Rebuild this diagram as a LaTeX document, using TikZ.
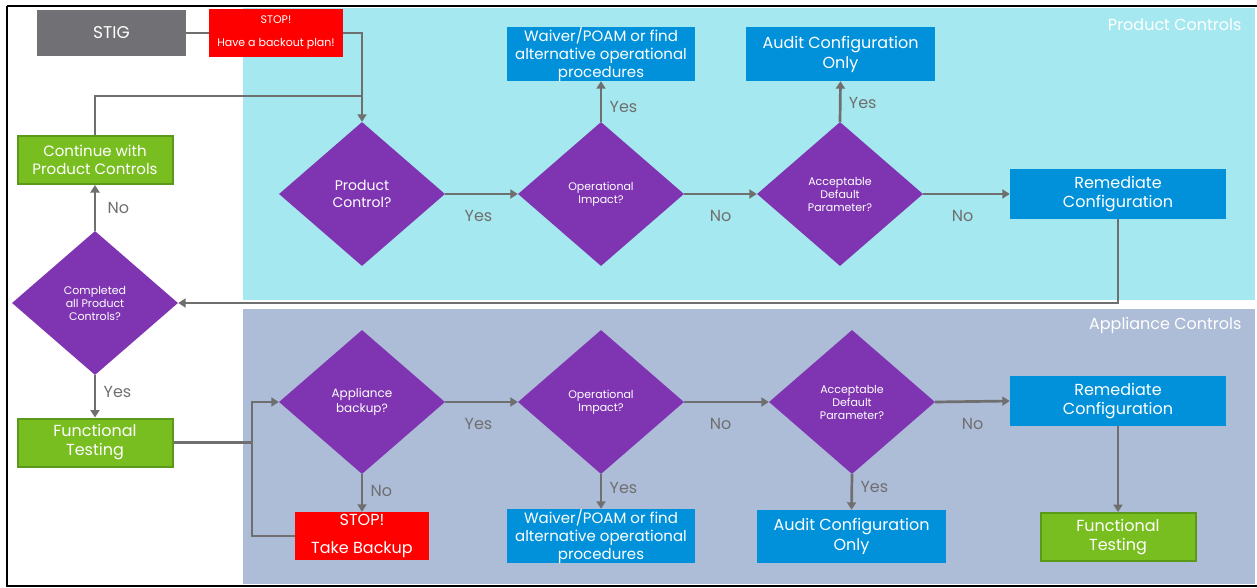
\documentclass[tikz,border=0pt]{standalone}
\usepackage{fontspec}
\setmainfont{Poppins}
\usetikzlibrary{shapes.geometric,arrows.meta}
\definecolor{prodbg}{HTML}{A5E8EF}
\definecolor{applbg}{HTML}{ADBCD7}
\definecolor{decpurple}{HTML}{7F35B2}
\definecolor{actblue}{HTML}{0091DA}
\definecolor{okgreen}{HTML}{78BE20}
\definecolor{okgreendark}{HTML}{5A9A18}
\definecolor{stiggray}{HTML}{717074}
\definecolor{linegray}{HTML}{6F6F6F}
\tikzset{
  decision/.style={diamond, fill=decpurple, text=white, inner sep=0pt, minimum width=166pt, minimum height=144pt, align=center, font=\fontsize{11}{13}\selectfont},
  action/.style={rectangle, fill=actblue, text=white, inner sep=0pt, align=center, font=\fontsize{16}{19}\selectfont},
  testbox/.style={rectangle, fill=okgreen, draw=okgreendark, line width=2pt, text=white, inner sep=0pt, align=center, font=\fontsize{16}{19}\selectfont},
  stopbox/.style={rectangle, fill=red, text=white, inner sep=0pt, align=center},
  flow/.style={draw=linegray, line width=2.7pt, -{Triangle[width=9pt,length=7.5pt]}},
  link/.style={draw=linegray, line width=2.7pt},
  answer/.style={text=linegray, font=\fontsize{16}{19}\selectfont},
  paneltitle/.style={text=white, anchor=east, font=\fontsize{16}{19}\selectfont}
}
\begin{document}
\begin{tikzpicture}[x=1pt,y=-1pt]
    \useasboundingbox (0,0) rectangle (1257,588);
    % Frame
    \draw [line width=2pt] (7,6) -- (1260,6);
    \draw [line width=2pt] (7,6) -- (7,586) -- (1260,586);
    % Panels
    \fill [prodbg] (243,8) rectangle (1255,300);
    \fill [applbg] (243,309) rectangle (1255,584);
    \node [paneltitle] (prodtitle) at (1245,25) {Product Controls};
    \node [paneltitle] (appltitle) at (1245,325) {Appliance Controls};
    % Start
    \node [rectangle, fill=stiggray, text=white, minimum width=149pt, minimum height=46pt, font=\fontsize{17}{20}\selectfont] (stig) at (111.5,33) {STIG};
    \node [stopbox, minimum width=134pt, minimum height=48pt, font=\fontsize{11}{23}\selectfont] (backout) at (276,33) {STOP!\\Have a backout plan!};
    % Product controls row
    \node [decision, font=\fontsize{14}{17}\selectfont] (prodctl) at (362,194) {Product\\Control?};
    \node [decision] (prodimpact) at (601,194) {Operational\\Impact?};
    \node [decision] (prodparam) at (840,194) {Acceptable\\Default\\Parameter?};
    \node [action, minimum width=216pt, minimum height=50pt] (prodfix) at (1118,194) {Remediate\\Configuration};
    \node [action, minimum width=188pt, minimum height=54pt, font=\fontsize{15}{18}\selectfont] (prodwaiver) at (601,54) {Waiver/POAM or find\\alternative operational\\procedures};
    \node [action, minimum width=189pt, minimum height=54pt, font=\fontsize{16}{20}\selectfont] (prodaudit) at (840.5,54) {Audit Configuration\\Only};
    % Loop back
    \node [decision] (alldone) at (95,303) {Completed\\all Product\\Controls?};
    \node [testbox, minimum width=155pt, minimum height=48pt, font=\fontsize{15}{18}\selectfont] (continue) at (95,160) {Continue with\\Product Controls};
    \node [testbox, minimum width=155pt, minimum height=48pt] (lefttest) at (95,442.5) {Functional\\Testing};
    % Appliance controls row
    \node [decision, font=\fontsize{12}{15}\selectfont] (applbackup) at (362,402) {Appliance\\backup?};
    \node [stopbox, minimum width=134pt, minimum height=48pt, font=\fontsize{16}{28}\selectfont] (takebackup) at (362,536) {STOP!\\Take Backup};
    \node [decision] (applimpact) at (601,402) {Operational\\Impact?};
    \node [decision] (applparam) at (852,402) {Acceptable\\Default\\Parameter?};
    \node [action, minimum width=216pt, minimum height=50pt] (applfix) at (1118,401) {Remediate\\Configuration};
    \node [action, minimum width=188pt, minimum height=54pt, font=\fontsize{15}{18}\selectfont] (applwaiver) at (601,536) {Waiver/POAM or find\\alternative operational\\procedures};
    \node [action, minimum width=189pt, minimum height=53pt, font=\fontsize{16}{20}\selectfont] (applaudit) at (851.5,536.5) {Audit Configuration\\Only};
    \node [testbox, minimum width=155pt, minimum height=48pt] (righttest) at (1118,537) {Functional\\Testing};
    % Helper points
    \coordinate (merge) at (prodctl.north |- 0,96);
    \coordinate (split) at (252,442.5);
    % Connectors, top
    \draw [link] (stig.east) -- (backout.west);
    \draw [flow] (backout.east) -| (prodctl.north);
    \draw [link] (continue.north) |- (merge);
    \draw [flow] (prodctl.east) -- node [answer, below=12pt, xshift=-3pt] {Yes} (prodimpact.west);
    \draw [flow] (prodimpact.east) -- node [answer, below=12pt] {No} (prodparam.west);
    \draw [flow] (prodparam.east) -- node [answer, below=12pt, xshift=-4pt] {No} (prodfix.west);
    \draw [flow] (prodimpact.north) -- node [answer, right=4pt, pos=0.36] {Yes} (prodwaiver.south);
    \draw [flow] (prodparam.north) -- node [answer, right=4pt, pos=0.46] {Yes} (prodaudit.south);
    \draw [flow] (prodfix.south) |- (alldone.east);
    \draw [flow] (alldone.north) -- node [answer, right=8pt, pos=0.5] {No} (continue.south);
    \draw [flow] (alldone.south) -- node [answer, right=4pt, pos=0.4] {Yes} (lefttest.north);
    % Connectors, bottom
    \draw [link] (lefttest.east) -- (split);
    \draw [flow] (split) |- (applbackup.west);
    \draw [link] (takebackup.west) -| (split);
    \draw [flow] (applbackup.south) -- node [answer, right=4pt, pos=0.45] {No} (takebackup.north);
    \draw [flow] (applbackup.east) -- node [answer, below=12pt, xshift=-3pt] {Yes} (applimpact.west);
    \draw [flow] (applimpact.east) -- node [answer, below=12pt, xshift=-6pt] {No} (applparam.west);
    \draw [flow] (applparam.east) -- node [answer, below=12pt] {No} (applfix.west);
    \draw [flow] (applimpact.south) -- node [answer, right=4pt, pos=0.4] {Yes} (applwaiver.north);
    \draw [flow] (applparam.south) -- node [answer, right=4pt, pos=0.35] {Yes} (applaudit.north);
    \draw [flow] (applfix.south) -- (righttest.north);
\end{tikzpicture}
\end{document}
